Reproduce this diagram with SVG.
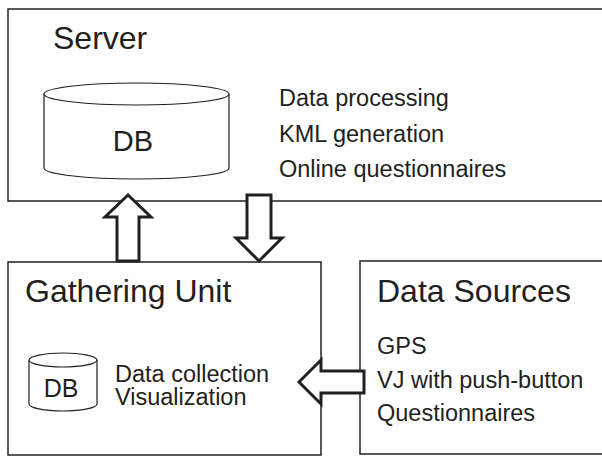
<svg xmlns="http://www.w3.org/2000/svg" width="602" height="456" viewBox="0 0 602 456">
<style>
.box{fill:#fff;stroke:#231f20;stroke-width:1.5}
.cyl{fill:#fff;stroke:#231f20;stroke-width:1.2}
.arrow{fill:#fff;stroke:#231f20;stroke-width:3;stroke-linejoin:miter}
text{font-family:"Liberation Sans",Arial,Helvetica,sans-serif;fill:#231f20}
.title{font-size:32px}
.item{font-size:23.5px}
.db{font-size:29px;text-anchor:middle}
.dbs{font-size:25px;text-anchor:middle}
</style>
<rect width="602" height="456" fill="#fff"/>
<g id="server">
<rect class="box" x="8" y="9" width="610" height="192"/>
<text class="title" x="53" y="49">Server</text>
<g id="server-db">
<path class="cyl" d="M44,94 L44,168 A92.5,11 0 0 0 229,168 L229,94"/>
<ellipse class="cyl" cx="136.5" cy="94" rx="92.5" ry="11"/>
<text class="db" x="133" y="151">DB</text>
</g>
<text class="item" x="279" y="106">Data processing</text>
<text class="item" x="279" y="141.5">KML generation</text>
<text class="item" x="279" y="176.5">Online questionnaires</text>
</g>
<g id="gathering-unit">
<rect class="box" x="8" y="262" width="313" height="193"/>
<text class="title" x="25" y="302">Gathering Unit</text>
<g id="gathering-db">
<path class="cyl" d="M29,360 L29,404 A34,7 0 0 0 97,404 L97,360"/>
<ellipse class="cyl" cx="63" cy="360" rx="34" ry="7"/>
<text class="dbs" x="61" y="397">DB</text>
</g>
<text class="item" x="115" y="381.5">Data collection</text>
<text class="item" x="115" y="405">Visualization</text>
</g>
<g id="data-sources">
<rect class="box" x="360" y="261" width="260" height="193"/>
<text class="title" x="377" y="301.5">Data Sources</text>
<text class="item" x="377" y="354">GPS</text>
<text class="item" x="377" y="388">VJ with push-button</text>
<text class="item" x="377" y="421">Questionnaires</text>
</g>
<g id="connectors">
<polygon class="arrow" points="128,195 151,217 139,217 139,261 117,261 117,217 105,217"/>
<polygon class="arrow" points="247,195 271,195 271,238 282,238 259,261 236,238 247,238"/>
<polygon class="arrow" points="299,382 321,360 321,371 364,371 364,393 321,393 321,404"/>
</g>
</svg>
